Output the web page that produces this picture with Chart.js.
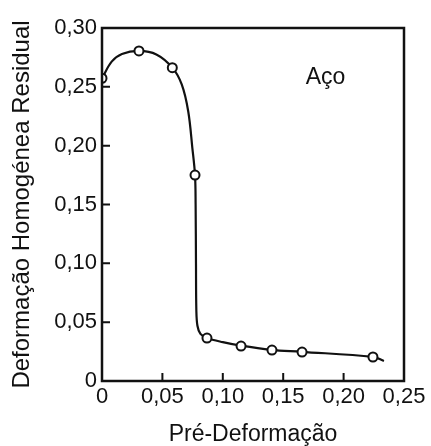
<!DOCTYPE html>
<html>
<head>
<meta charset="utf-8">
<script src="https://cdn.jsdelivr.net/npm/chart.js@4/dist/chart.umd.min.js"></script>
<style>
    html, body { margin: 0; padding: 0; background: #fff; }
    canvas { display: block; }
</style>
</head>
<body>
<canvas id="acoChart" width="431" height="446"></canvas>
<script>
// curve (x = pré-deformação, y = deformação residual)
const curveX = [0, 0.008, 0.0165, 0.0306, 0.045, 0.0582, 0.066, 0.0714, 0.0748, 0.0770, 0.0775, 0.0778, 0.0781, 0.0790, 0.0815, 0.0869, 0.100, 0.115, 0.140, 0.165, 0.2243, 0.2334];
const curveY = [0.2573, 0.2714, 0.2779, 0.2805, 0.2775, 0.2663, 0.252, 0.229, 0.198, 0.175, 0.150, 0.100, 0.060, 0.047, 0.040, 0.0365, 0.0330, 0.0300, 0.0265, 0.0248, 0.0205, 0.017];

// measured points (open circles)
const pointX = [0, 0.0306, 0.0582, 0.0770, 0.0869, 0.1151, 0.1407, 0.1656, 0.2243];
const pointY = [0.2573, 0.2805, 0.2663, 0.175, 0.0365, 0.0297, 0.0263, 0.0246, 0.0204];

const xTicks = [0, 0.05, 0.10, 0.15, 0.20, 0.25];
const yTicks = [0, 0.05, 0.10, 0.15, 0.20, 0.25, 0.30];

const materialLabel = 'Aço';
const materialPos = [0.185, 0.258];

const ink = '#111';
const font = 'Arial, "Liberation Sans", Helvetica, sans-serif';

function fmt(v) {
    if (Math.abs(v) < 1e-9) return '0';
    return v.toFixed(2).replace('.', ',');
}

// frame, inward ticks and the "Aço" label
const framePlugin = {
    id: 'frame',
    afterDatasetsDraw(chart) {
        const ctx = chart.ctx;
        const a = chart.chartArea;
        const xs = chart.scales.x;
        const ys = chart.scales.y;
        ctx.save();
        ctx.strokeStyle = ink;
        ctx.lineWidth = 2.5;
        ctx.strokeRect(a.left, a.top, a.right - a.left, a.bottom - a.top);

        ctx.lineWidth = 2;
        ctx.beginPath();
        xTicks.slice(1, -1).forEach(v => {
            let px = xs.getPixelForValue(v);
            ctx.moveTo(px, a.bottom);
            ctx.lineTo(px, a.bottom - 8);
        });
        yTicks.slice(1, -1).forEach(v => {
            let py = ys.getPixelForValue(v);
            ctx.moveTo(a.left, py);
            ctx.lineTo(a.left + 8, py);
        });
        ctx.stroke();

        ctx.fillStyle = ink;
        ctx.font = '23px ' + font;
        ctx.textAlign = 'center';
        ctx.textBaseline = 'middle';
        ctx.fillText(materialLabel, xs.getPixelForValue(materialPos[0]), ys.getPixelForValue(materialPos[1]));
        ctx.restore();
    }
};

let curveData = curveX.map((x, i) => ({ x: x, y: curveY[i] }));
let pointData = pointX.map((x, i) => ({ x: x, y: pointY[i] }));

let chartElement = document.getElementById('acoChart').getContext('2d');

let acoChart = new Chart(chartElement, {
    type: 'scatter',
    data: {
        datasets: [
            {
                data: pointData,
                showLine: false,
                pointRadius: 4.5,
                pointBorderWidth: 2,
                pointBackgroundColor: '#fff',
                pointBorderColor: ink,
                order: 0
            },
            {
                data: curveData,
                showLine: true,
                borderColor: ink,
                borderWidth: 2.2,
                pointRadius: 0,
                tension: 0.35,
                order: 1
            }
        ]
    },
    options: {
        responsive: false,
        animation: false,
        layout: { padding: { top: 28, right: 27, bottom: 0, left: 0 } },
        plugins: { legend: { display: false }, tooltip: { enabled: false } },
        scales: {
            x: {
                type: 'linear',
                min: 0,
                max: 0.25,
                afterBuildTicks: s => { s.ticks = xTicks.map(v => ({ value: v })); },
                afterFit: s => { s.height = 65; },
                grid: { display: false, drawTicks: false },
                border: { display: false },
                ticks: {
                    color: ink,
                    padding: 3,
                    maxRotation: 0,
                    font: { family: font, size: 22 },
                    callback: v => fmt(v)
                },
                title: {
                    display: true,
                    text: 'Pré-Deformação',
                    color: ink,
                    padding: { top: 0, bottom: 0 },
                    font: { family: font, size: 23, lineHeight: 1 }
                }
            },
            y: {
                type: 'linear',
                min: 0,
                max: 0.30,
                afterBuildTicks: s => { s.ticks = yTicks.map(v => ({ value: v })); },
                afterFit: s => { s.width = 102; },
                grid: { display: false, drawTicks: false },
                border: { display: false },
                ticks: {
                    color: ink,
                    padding: 5,
                    font: { family: font, size: 22 },
                    callback: v => fmt(v)
                },
                title: {
                    display: true,
                    text: 'Deformação Homogénea Residual',
                    color: ink,
                    padding: { top: 8, bottom: 0 },
                    font: { family: font, size: 24, lineHeight: 1.2 }
                }
            }
        }
    },
    plugins: [framePlugin]
});
</script>
</body>
</html>
